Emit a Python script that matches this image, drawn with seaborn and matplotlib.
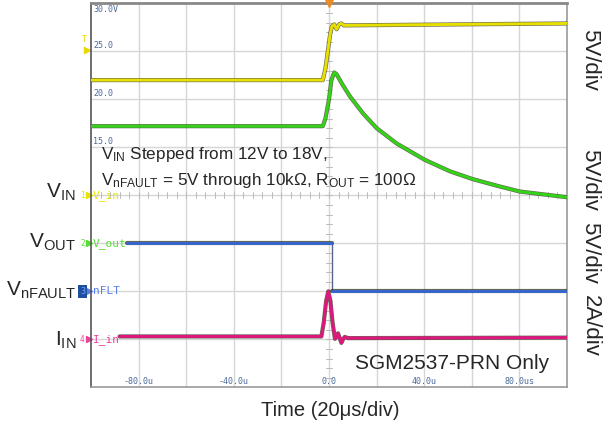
import numpy as np
import pandas as pd
import matplotlib
matplotlib.use("Agg")
import matplotlib.pyplot as plt
import matplotlib.patheffects as pe
import seaborn as sns

sns.set_style("white")
plt.rcParams['font.family'] = ['Liberation Sans', 'DejaVu Sans']
plt.rcParams['mathtext.fontset'] = 'custom'
plt.rcParams['mathtext.rm'] = 'Liberation Sans'
plt.rcParams['mathtext.it'] = 'Liberation Sans:italic'

# --- scope traces (time in us) ---
vin_t = [-100, -2.6, -1.5, -0.5, 0.5, 1.2, 2.2, 3.2, 4.2, 5.2, 6.2, 100]
vin_v = [12.0, 12.0, 13.2, 15.0, 16.8, 17.6, 17.8, 17.3, 17.8, 17.9, 17.7, 17.9]

vout_t = [-100, -2.6, -1.5, 0, 1.0, 2.2, 3.2, 5.5, 8.8, 14.4, 20.0, 28.4,
          40.2, 50.8, 60.2, 70.5, 80.0, 100]
vout_v = [12.2, 12.2, 13.0, 15.0, 17.0, 17.8, 17.6, 16.6, 15.3, 13.5, 12.0, 10.4,
          8.7, 7.5, 6.7, 6.0, 5.4, 4.8]

nflt_pre_t = [-85, 1.4]
nflt_pre_v = [5.0, 5.0]
nflt_post_t = [1.4, 100]
nflt_post_v = [0.05, 0.05]

iin_t = [-88, -3.2, -2.2, -1.2, -0.3, 0.6, 1.5, 2.5, 3.1, 3.8, 4.5, 5.2, 5.9, 6.6, 8.0, 100]
iin_a = [0.12, 0.12, 0.7, 1.6, 2.0, 1.6, 0.7, 0.02, 0.1, 0.25, 0.05, -0.15, 0.0, 0.1, 0.05, 0.07]

channels = ['V_in', 'V_out', 'nFLT', 'I_in']
ground_div = [4, 3, 2, 1]
per_div = [5.0, 5.0, 5.0, 2.0]
trace_colors = ['#e8e000', '#33d417', '#3565d0', '#e0157e']
label_colors = ['#e6e600', '#55dd33', '#5a7ef0', '#f0409a']
div_text = ['5V/div', '5V/div', '5V/div', '2A/div']

x_ticks = [-80, -40, 0, 40, 80]
x_tick_text = ['-80.0u', '-40.0u', '0.0', '40.0u', '80.0us']
y_scale_text = ['30.0V', '25.0', '20.0', '15.0']


def to_div(vals, ch):
    i = channels.index(ch)
    return [ground_div[i] + v / per_div[i] for v in vals]


rows = []
for ch, seg, ts, vs in [('V_in', 0, vin_t, vin_v), ('V_out', 0, vout_t, vout_v),
                        ('nFLT', 0, nflt_pre_t, nflt_pre_v), ('nFLT', 1, nflt_post_t, nflt_post_v),
                        ('I_in', 0, iin_t, iin_a)]:
    for t, d in zip(ts, to_div(vs, ch)):
        rows.append({'t': t, 'div': d, 'channel': ch, 'seg': seg})
df = pd.DataFrame(rows)

fig = plt.figure(figsize=(6.11, 4.32), dpi=100)
ax = fig.add_axes([91 / 611, 1 - 387.3 / 432, 476 / 611, 384 / 432])
ax.set_xlim(-100, 100)
ax.set_ylim(0, 8)

# grid
for gx in np.arange(-80, 100, 20):
    ax.axvline(gx, color='#d6d6d6', lw=1, zorder=0)
for gy in range(1, 8):
    ax.axhline(gy, color='#d6d6d6', lw=1, zorder=0)
for tk in np.arange(0.2, 8, 0.2):
    ax.plot([-1.2, 1.2], [tk, tk], color='#bbbbbb', lw=0.7, zorder=0)
for tk in np.arange(-96, 100, 4):
    ax.plot([tk, tk], [3.94, 4.06], color='#bbbbbb', lw=0.7, zorder=0)

# thin fall edge of nFLT
ax.plot([nflt_pre_t[-1], nflt_post_t[0]], to_div([nflt_pre_v[-1], nflt_post_v[0]], 'nFLT'),
        color='#556688', lw=1, zorder=2)

sns.lineplot(data=df, x='t', y='div', hue='channel', units='seg', estimator=None,
             sort=False, palette=dict(zip(channels, trace_colors)), lw=2.1,
             legend=False, ax=ax, zorder=3)
for ln in ax.get_lines()[-5:]:
    ln.set_path_effects([pe.Stroke(linewidth=3.0, foreground='#2a2a10', alpha=0.7), pe.Normal()])

ax.set_xlabel('')
ax.set_ylabel('')
ax.set_xticks([])
ax.set_yticks([])
for s in ['bottom', 'right']:
    ax.spines[s].set_color('#999999')
    ax.spines[s].set_linewidth(1.2)
ax.spines['top'].set_color('#888888')
ax.spines['top'].set_linewidth(2)
ax.spines['left'].set_color('#555555')
ax.spines['left'].set_linewidth(1.2)

mono = 'DejaVu Sans Mono'
ax.text(-99, 7.97, y_scale_text[0], family=mono, fontsize=6, color='#4a6a9a', va='top', ha='left')
for k, lab in enumerate(y_scale_text[1:]):
    ax.text(-99, 7 - k + 0.03, lab, family=mono, fontsize=6, color='#4a6a9a', va='bottom', ha='left')
for xt, lab in zip(x_ticks, x_tick_text):
    ax.text(xt, 0.03, lab, family=mono, fontsize=6, color='#4a6a9a', va='bottom', ha='center')

# channel markers
for ch, g, lc in zip(channels, ground_div, label_colors):
    ax.text(-99.2, g, ch, family=mono, fontsize=8, color=lc, va='center', ha='left')
    ax.plot([-100.9], [g], marker='>', ms=4, color=lc, clip_on=False)
    if ch == 'nFLT':
        ax.text(-103.6, g, '3', family=mono, fontsize=6, color='#7fa0ff', va='center', ha='center',
                bbox=dict(boxstyle='square,pad=0.25', fc='#1d4f9e', ec='none'))
    else:
        ax.text(-103.6, g, str(channels.index(ch) + 1), family=mono, fontsize=5.5, color=lc,
                va='center', ha='center')
ax.plot([-101.5], [7.02], marker='>', ms=5, color='#e6d800', clip_on=False)
ax.text(-103.0, 7.25, 'T', family=mono, fontsize=6, color='#e6d800', va='center', ha='center')
ax.plot([0], [8.02], marker='v', ms=7, color='#f08a24', clip_on=False, zorder=5)

# annotations
ax.text(-96, 4.86, r'V$_{\mathrm{IN}}$ Stepped from 12V to 18V,', fontsize=12.3, va='center', ha='left')
ax.text(-96, 4.30, r'V$_{\mathrm{nFAULT}}$ = 5V through 10k$\Omega$, R$_{\mathrm{OUT}}$ = 100$\Omega$',
        fontsize=12.3, va='center', ha='left')
ax.text(51.5, 0.49, 'SGM2537-PRN Only', fontsize=15, va='center', ha='center')

left_labels = [r'V$_{\mathrm{IN}}$', r'V$_{\mathrm{OUT}}$', r'V$_{\mathrm{nFAULT}}$', r'I$_{\mathrm{IN}}$']
left_y = [192, 242, 290, 340]
for lab, py in zip(left_labels, left_y):
    fig.text(76 / 611, 1 - py / 432, lab, fontsize=15, ha='right', va='center')

right_y = [60, 180, 253, 326]
for lab, py in zip(div_text, right_y):
    fig.text(590 / 611, 1 - py / 432, lab, fontsize=16, rotation=-90, ha='center', va='center')

fig.text(330 / 611, 1 - 411 / 432, 'Time (20\u03bcs/div)', fontsize=14.5, ha='center', va='center')

fig.savefig('out.png', dpi=100)
